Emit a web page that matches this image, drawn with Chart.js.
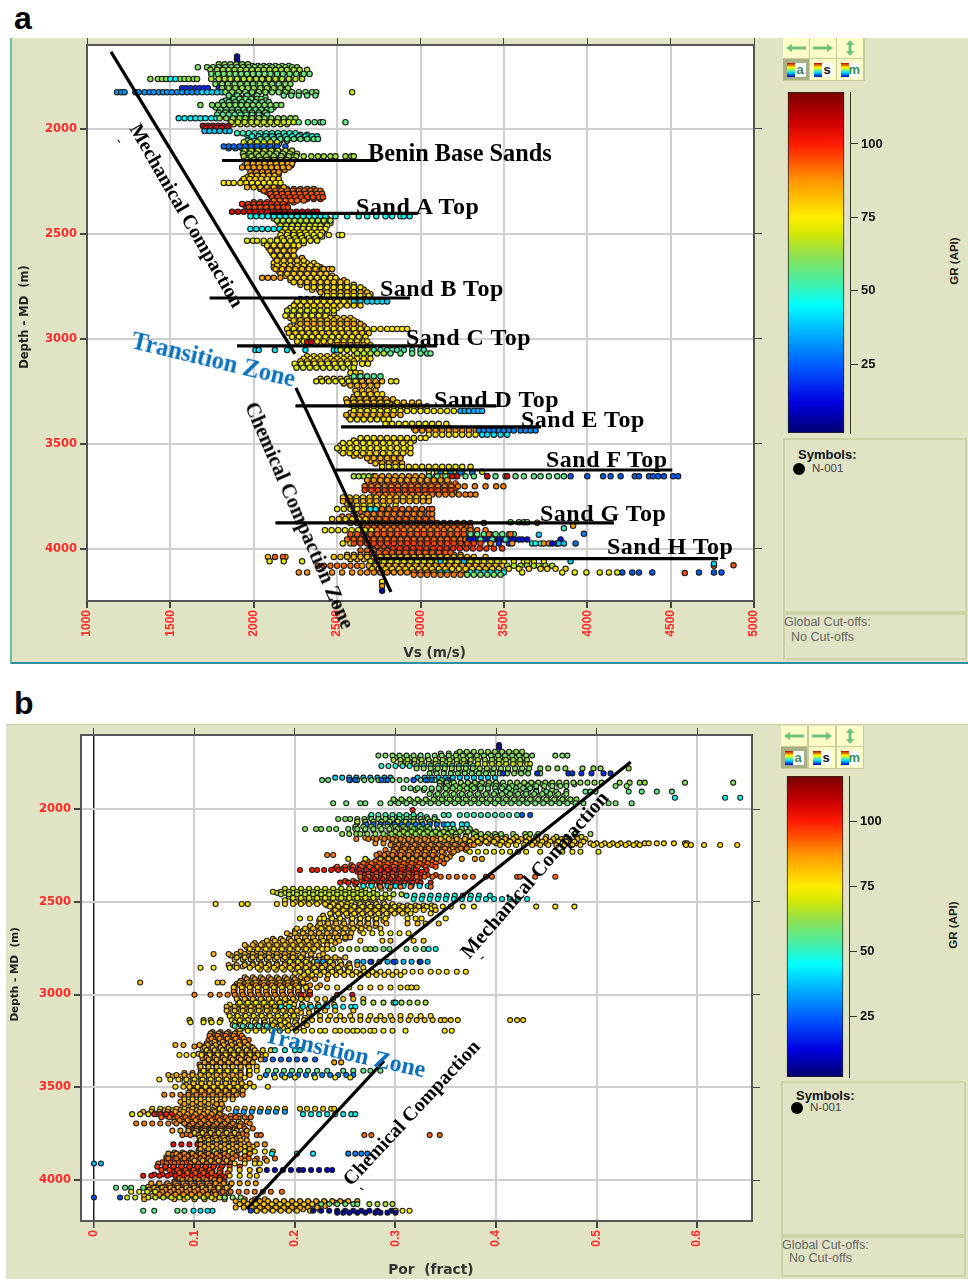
<!DOCTYPE html>
<html><head><meta charset="utf-8">
<script src="https://cdn.jsdelivr.net/npm/chart.js@4/dist/chart.umd.min.js"></script>
<style>
html,body{margin:0;padding:0;background:#fff;width:968px;height:1279px;overflow:hidden;font-family:"Liberation Sans",Arial,sans-serif}
.abs,canvas,.t,.btn,.box,.s{position:absolute}
.panel{position:absolute;background:#e0e3c4}
.t{font-family:"Liberation Serif",serif;font-weight:bold;color:#000;white-space:pre;line-height:26px;height:26px;transform-origin:0 50%;transform:rotate(var(--a,0deg))}
.blue{color:#0a70bd}
.btn{width:26px;height:20px;background:#fdfdc8;display:flex;align-items:center;justify-content:center}
.btn.on{background:#a9ae84}
.cm{display:inline-block;width:8px;height:14px;background:linear-gradient(#c00000,#ffff00,#00e0ff,#0000c0)}
.lt{display:inline-block;width:11px;height:14px;background:#fff;font:bold 13px/13px "Liberation Sans";text-align:center;color:#3c8a60}
.box{border:2px solid #cdd3a6;box-sizing:border-box}
.s{font-size:11.5px;color:#444;white-space:pre}
.dot{position:absolute;width:12px;height:12px;border-radius:50%;background:#000}
.lab{position:absolute;font:bold 32px/32px "Liberation Sans",Arial,sans-serif;color:#000}
</style></head><body>
<script>
/* ---------- shared axis and colour values ---------- */
const depthTicks=[2000,2500,3000,3500,4000];
const vsTicks=[1000,1500,2000,2500,3000,3500,4000,4500,5000];
const porTicks=[0,0.1,0.2,0.3,0.4,0.5,0.6];
const grTicks=[25,50,75,100];
const grStops=[[0,'#00006e'],[12,'#0000e0'],[25,'#0060ff'],[36,'#00b4ff'],[45,'#00ffff'],[52,'#40f0b0'],[62,'#90e050'],[70,'#d8e800'],[75,'#ffee00'],[87,'#ff9a00'],[100,'#ff1a00'],[108,'#c80000'],[118,'#780000']];

/* ---------- panel a: rows are depth, GR, then Vs readings ---------- */
const aBodyUpper=[
[1700,60,1810,1850,1885,1920,1955,1990,2025,2060,2095,2130,2170,2210],
[1728,62,1760,1800,1835,1870,1905,1940,1975,2010,2045,2080,2115,2150,2190,2230,2270],
[1750,58,1765,1800,1840,1875,1910,1945,1980,2015,2050,2085,2120,2160,2200,2240,2290],
[1774,64,1790,1830,1865,1905,1940,1980,2015,2055,2090,2130,2170,2210],
[1796,58,1830,1870,1905,1945,1980,2020,2055,2095,2135,2170],
[1816,62,1870,1910,1945,1985,2020,2060,2100,2140,2180,2210],
[1850,58,1880,1915,1950,1985,2020,2070],
[1864,54,1830,1870,1910,1950,1990,2030,2070],
[1897,58,1770,1805,1840,1875,1910,1945,1980,2015,2050,2085,2120],
[1915,60,1810,1850,1890,1930,1970,2010,2050,2080],
[1940,54,1800,1840,1880,1920,1960,2000,2040,2060],
[1958,64,1860,1900,1940,1980,2020,2060,2100,2140,2180,2220],
[1977,70,1880,1920,1960,2000,2040,2080,2120,2160,2200],
[2028,50,1960,2000,2040,2080,2120,2160,2200,2240,2280,2320],
[2042,52,2020,2060,2100,2140,2180,2220,2260,2300,2340],
[2056,56,1960,2000,2040,2080,2120,2160,2200],
[2072,64,1950,1990,2030,2070,2110,2150],
[2092,32,1850,1890,1930,1970,2010,2050,2090,2130],
[2110,66,1955,1995,2035,2075,2115,2155,2200],
[2125,64,1950,1990,2030,2070,2110,2150,2190,2230],
[2140,68,1965,2005,2045,2085,2125,2165,2205],
[2174,88,1945,1985,2025,2065,2105,2145,2185,2225],
[2195,86,1985,2025,2065,2105,2145,2185],
[2214,90,1990,2030,2070,2110,2150],
[2230,78,1960,2000,2040,2080,2120],
[2248,84,1930,1970,2010,2050,2090,2130],
[2268,80,1970,2010,2050,2090,2130],
[2286,90,2040,2080,2120,2160,2200,2240,2280,2320,2360],
[2301,96,2080,2120,2160,2200,2240,2280,2320,2360,2400],
[2317,92,2100,2140,2180,2220,2260,2300,2340,2380,2410],
[2333,98,2120,2160,2200,2240,2280,2320,2360,2400],
[2349,94,2000,2040,2080,2120,2160,2200,2240],
[2365,100,1950,1990,2030,2070,2110,2150,2190],
[2384,102,1990,2030,2070,2110,2150,2190],
[2405,78,2020,2060,2100,2140,2180,2220,2260,2300,2340],
[2426,68,2120,2160,2200,2240,2280,2320,2360,2400,2440],
[2448,72,2150,2190,2230,2270,2310,2350,2390,2430,2460],
[2468,70,2180,2220,2260,2300,2340,2380,2420],
[2484,76,2180,2220,2260,2300,2340,2380,2420],
[2512,74,2170,2210,2250,2290,2330,2370,2410],
[2526,78,2140,2180,2220,2260,2300,2340,2380],
[2544,76,2060,2100,2140,2180,2220,2260,2300],
[2567,80,2090,2130,2170,2210,2250],
[2591,78,2110,2150,2190,2230]];
const aBodyLower=[
[2615,82,2130,2170,2210,2250,2290],
[2639,78,2120,2160,2200,2240,2280,2320,2360],
[2659,84,2120,2160,2200,2240,2280,2320,2360,2400],
[2678,80,2150,2190,2230,2270,2310,2350,2390,2430],
[2699,78,2190,2230,2270,2310,2350,2390,2430,2470],
[2720,84,2220,2260,2300,2340,2380,2420,2460,2500,2540],
[2742,78,2280,2320,2360,2400,2440,2480,2520,2560,2600],
[2766,80,2350,2390,2430,2470,2510,2550,2590,2630,2660],
[2787,78,2420,2460,2500,2540,2580,2620,2660,2700],
[2810,76,2280,2320,2360,2400,2440,2480,2520,2560,2600,2640],
[2832,80,2250,2290,2330,2370,2410,2450,2490,2530,2570,2610],
[2853,74,2220,2260,2300,2340,2380,2420,2460,2500],
[2877,76,2200,2240,2280,2320,2360,2400,2440,2480],
[2900,82,2220,2260,2300,2340,2380,2420,2460,2500,2540,2580],
[2920,78,2260,2300,2340,2380,2420,2460,2500,2540,2580,2620],
[2940,84,2220,2260,2300,2340,2380,2420,2460,2500,2540,2580,2620,2660],
[2962,78,2230,2270,2310,2350,2390,2430,2470,2510,2550,2590,2630,2670],
[2981,82,2250,2290,2330,2370,2410,2450,2490,2530,2570,2610,2650],
[3001,76,2280,2320,2360,2400,2440,2480,2520,2560,2600,2640],
[3021,84,2400,2440,2480,2520,2560,2600,2640,2680],
[3041,80,2500,2540,2580,2620,2660,2700],
[3082,78,2320,2360,2400,2440,2480,2520,2560,2600,2640,2680],
[3100,82,2300,2340,2380,2420,2460,2500,2540,2580],
[3126,76,2260,2300,2340,2380,2420,2460,2500,2540,2580],
[3190,78,2400,2440,2480,2520,2560,2600,2640,2680],
[3212,82,2540,2580,2620,2660,2700,2740],
[3245,84,2610,2650,2690,2730],
[3275,84,2600,2640,2680,2720,2760],
[3295,78,2580,2620,2660,2700,2740,2780,2820],
[3312,84,2580,2620,2660,2700,2740,2780,2820,2860,2900],
[3332,78,2620,2660,2700,2740,2780,2820,2860,2900,2940,3000],
[3352,80,2580,2620,2660,2700,2740,2780,2820,2860],
[3373,78,2570,2610,2650,2690,2730,2770,2810],
[3484,78,2600,2640,2680,2720,2760,2800,2840,2880,2920,2960],
[3508,74,2520,2560,2600,2640,2680,2720,2760,2800,2840,2880,2920],
[3532,78,2520,2560,2600,2640,2680,2720,2760,2800,2840,2880,2920],
[3556,82,2600,2640,2680,2720,2760,2800,2840,2880],
[3581,84,2700,2740,2780,2820,2860],
[3664,88,2700,2740,2780,2820,2860,2900,2940,2980,3020,3060,3100],
[3688,92,2690,2730,2770,2810,2850,2890,2930,2970,3010,3050,3090,3130,3170,3210],
[3712,94,2690,2730,2770,2810,2850,2890,2930,2970,3010,3050,3090,3130,3170,3210],
[3731,90,2720,2760,2800,2840,2880,2920,2960,3000,3040,3080,3120,3160,3200],
[3764,82,2560,2600,2640,2680,2720,2760,2800,2840,2880,2920,2960,3000],
[3784,80,2560,2600,2640,2680,2720,2760,2800],
[3822,92,2600,2640,2680,2720,2760,2800,2840,2880,2920,2960,3000,3040],
[3846,90,2530,2570,2610,2650,2690,2730,2770,2810,2850,2890,2930,2970,3010,3050],
[3867,86,2520,2560,2600,2640,2680,2720,2760,2800,2840,2880,2920,2960,3000,3040],
[3888,92,2660,2700,2740,2780,2820,2860,2900,2940,2980,3020,3060,3100,3140,3180,3220,3260],
[3920,94,2640,2680,2720,2760,2800,2840,2880,2920,2960,3000,3040,3080,3120,3160,3200,3240,3280,3320],
[3942,96,2580,2620,2660,2700,2740,2780,2820,2860,2900,2940,2980,3020,3060,3100,3140,3180,3220,3260,3300,3340],
[3965,98,2620,2660,2700,2740,2780,2820,2860,2900,2940,2980,3020,3060,3100,3140,3180,3220,3260],
[3986,94,2700,2740,2780,2820,2860,2900,2940,2980,3020,3060,3100,3140,3180,3220,3260,3300],
[4008,92,2640,2680,2720,2760,2800,2840,2880,2920,2960,3000,3040,3080,3120,3160],
[4028,84,2560,2600,2640,2680,2720,2760,2800,2840,2880,2920,2960,3000,3040,3080,3120,3160,3200,3240],
[4049,80,2580,2620,2660,2700,2740,2780,2820,2860,2900,2940,2980,3020,3060,3100,3140,3180,3220,3260,3300],
[4070,86,2700,2740,2780,2820,2860,2900,2940,2980,3020,3060,3100,3140,3180,3220,3260,3300,3340],
[4088,82,2700,2740,2780,2820,2860,2900,2940,2980,3020,3060,3100,3140,3180,3220,3260,3300,3340,3380,3420],
[4104,84,2730,2770,2810,2850,2890,2930,2970,3010,3050,3090,3130,3170,3210,3250,3290]];
const aUpperSand=[
[1655,8,1900],[1672,8,1900],
[1692,62,1790,1825,1860,1895,1930,1965],
[1706,60,1665,1720,1755,1790,1830,1865,1900,1935,1970,2005,2040,2075,2110,2150,2190,2230,2260],
[1718,64,1740,1780,1815,1850,1885,1920,1955,1990,2025,2060,2095,2130,2165,2200,2240,2275,2320],
[1738,58,1745,1785,1820,1855,1890,1925,1960,1995,2030,2065,2100,2140,2175,2215,2255,2300,2335],
[1762,62,1380,1425,1450,1475,1560,1585,1610,1640,1660],[1762,44,1500,1530],
[1762,66,1745,1790,1825,1860,1900,1940,1975,2015,2050,2090,2130,2170,2210,2250,2290],
[1786,60,1770,1810,1845,1885,1920,1960,1995,2035,2070,2110,2150,2190,2220],
[1806,18,1570,1595,1620,1650,1675,1700,1725,1790],
[1806,62,1810,1850,1890,1930,1965,2000,2040,2080,2120,2160,2205],
[1825,32,1180,1205,1225,1290,1310,1345,1375,1400,1430,1455,1480,1510,1540,1570,1600,1630,1660],
[1825,40,1690,1720,1750,1780,1810],
[1825,60,1830,1870,1910,1950,1990,2030,2070,2110,2150,2190,2230,2270,2310,2350,2375],
[1825,68,2590],
[1841,56,2180,2225,2270,2320,2370,1850,1900,1960,2020],
[1857,58,1880,1915,1950,1985,2020,2045],
[1872,56,1810,1850,1890,1930,1970,2010,2050,2090],
[1886,60,1680,1750,1785,1820,1855,1890,1925,1960,1995,2030,2065,2100,2135,2165],
[1908,56,1800,1835,1870,1905,1940,1975,2010,2045,2080,2105],
[1922,60,1790,1830,1870,1910,1950,1990,2030,2070],
[1932,55,1780,1815,1850,1885,1920,1955,1990,2030,2080],
[1949,44,1550,1585,1620,1650,1680,1710,1745,1775],
[1949,62,1795,1835,1875,1915,1950,1990,2030,2065,2105,2145,2180,2220,2250],
[1968,68,1865,1905,1945,1985,2020,2060,2100,2140,2180,2210,2240],
[1968,56,2270,2325,2365,2400,2415,2550],
[1985,106,1695,1725,1755,1785,1815,1850],
[1995,104,1710,1740,1775,1805,1840],
[2010,38,1705,1735,1765,1795,1830,1855],
[2020,50,1900,1935,1970,2005,2040,2075,2110,2145,2180,2215,2250],
[2035,48,1990,2030,2070,2110,2150,2190,2230,2270,2310,2350,2380],
[2048,56,2040,2080,2120,2160,2200,2240,2280,2320,2360,2385],
[2063,68,1940,1980,2020,2060,2100,2140],
[2083,26,1820,1850,1880,1915,1950,1985,2020,2060,2100,2140,2190],
[2103,66,1945,1985,2025,2065,2105,2145,2190,2230],
[2118,62,1935,1975,2015,2055,2095,2135,2175,2215,2260],
[2130,64,1940,1985,2030,2075,2120,2165,2210,2255,2300,2345,2385,2420,2460,2490,2550,2585,2600],
[2148,68,1960,2000,2040,2080,2120,2160,2200,2240]];
const aSandA=[
[2165,84,1960,1995,2030,2065,2100,2135,2170,2205,2230],
[2183,86,1930,1965,2000,2035,2070,2105,2140,2175,2210],
[2206,88,1980,2015,2050,2085,2120,2150],
[2222,82,1985,2020,2055,2090,2125],
[2238,80,1940,1975,2010,2045,2080,2115,2150],
[2257,76,1820,1850,1880,1920,1955,1990,2025,2060,2095,2130,2160],
[2278,82,1960,2000,2040,2080,2120,2180],
[2294,92,2060,2095,2130,2165,2200,2235,2270,2305,2340,2375,2400],
[2309,94,2100,2135,2170,2205,2240,2275,2310,2345,2380,2410],
[2325,96,2110,2145,2180,2215,2250,2285,2320,2355,2390,2415],
[2341,92,2120,2155,2190,2225,2260,2300],
[2357,98,1930,1965,2000,2035,2070,2105,2140,2175],
[2373,96,1970,2005,2040,2075,2110,2145,2180,2205],
[2394,106,1870,1905,1940,1975,2010,2045,2080,2115,2150,2185,2220,2255,2290,2325,2360,2380],
[2416,46,1980,2015,2050,2085,2120,2155,2190,2225,2260,2295,2330,2365,2400,2430,2490,2560,2630,2680,2735,2790,2830,2880,2900,2935],
[2436,66,2140,2175,2210,2245,2280,2315,2350,2385,2420,2460],
[2460,70,2160,2195,2230,2265,2300,2335,2370,2400,2440],
[2476,44,1980,2015,2050,2085,2120,2155,2185],
[2476,74,2190,2225,2260,2295,2330,2365,2400,2430],
[2492,76,2170,2205,2240,2275,2310,2345,2380,2410],
[2505,74,2160,2200,2240,2280,2320,2360,2400,2450,2510,2530],
[2520,76,2170,2210,2250,2290,2330,2370],
[2532,72,1960,1995,2020,2060,2100,2140,2180,2220,2260,2300,2340,2380],
[2555,78,2080,2120,2160,2200,2240,2270],
[2579,80,2100,2140,2180,2220,2240]];
const aSandB=[
[2603,78,2120,2160,2200,2240],
[2627,80,2140,2180,2220,2260,2300],
[2651,78,2140,2180,2220,2260,2300,2340,2380],
[2667,82,2130,2170,2210,2250,2290,2330,2370,2410,2420,2450,2470],
[2690,80,2160,2200,2240,2280,2320,2360,2400,2435],
[2709,86,2050,2085,2120,2160],[2709,78,2220,2260,2300,2340,2380,2420,2460,2490],
[2730,80,2240,2280,2320,2360,2400,2440,2480,2520,2560],
[2754,76,2320,2360,2400,2440,2480,2520,2560,2600,2640],
[2778,82,2400,2440,2480,2520,2560,2600,2640,2680],
[2795,74,2440,2480,2520,2560,2600,2640,2690],
[2822,76,2260,2300,2340,2380,2420,2460,2500,2540,2580],
[2822,40,2600,2640,2680,2710,2740,2770,2800],
[2841,78,2240,2280,2320,2360,2400,2440,2480,2520,2560,2600,2640],
[2865,70,2200,2240,2280,2320,2360,2400,2440,2480],
[2889,74,2190,2230,2270,2310,2350,2390,2430],
[2912,80,2240,2280,2320,2360,2400,2440,2480,2520,2560,2600],
[2928,84,2280,2320,2360,2400,2440,2480,2520,2560,2600,2640],
[2952,76,2200,2240,2280,2320,2360,2400,2440,2480,2520,2560,2600,2640,2680,2720,2760,2800,2830,2860,2890,2920]];
const aSandC=[
[2972,80,2210,2250,2290,2330,2370,2410,2450,2490,2530,2570,2610,2650,2690],
[2990,74,2230,2270,2310,2350,2390,2430,2470,2510,2550,2590,2630,2670],
[3012,78,2260,2300,2340,2380,2420,2460,2500,2540,2580,2620,2660,2680],
[3015,106,2320,2345],
[3030,84,2500,2540,2580,2620,2660,2700],
[3053,42,2010,2030,2127,2200,2310,2480,2500],
[3053,70,2520,2560,2600,2640,2680],[3053,52,2720,2760,2800,2830,2860,2900,2950,3000,3020],
[3069,66,2620,2660,2700,2740,2780],[3069,56,2820,2880,2950,3000,3040,3060],
[3094,76,2300,2340,2380,2420,2460,2500,2540,2580,2620,2660,2700],
[3106,80,2280,2320,2360,2400,2440,2480,2520,2560,2600],
[3118,74,2245,2285,2325,2365,2405,2445,2485,2525,2565,2605,2650,2685],
[3137,70,2256,2296,2336,2376,2416,2456,2496,2536,2580,2600],
[3162,78,2580,2610,2640],[3178,54,2600,2640,2680,2720,2760],
[3202,72,2375,2410,2450,2490,2530,2570,2610],[3202,84,2650,2690,2730,2770],[3202,72,2823,2855],
[3222,84,2580,2620,2660,2700,2740],
[3263,78,2620,2660,2700,2740,2770],
[3287,82,2555,2595,2635,2675,2715,2755,2795,2835],
[3303,80,2560,2600,2640,2680,2720,2760,2800,2860,2900,2950,2990],
[3320,76,2600,2640,2680,2720,2760,2800,2840,2880,2920,2960,3000,3040],
[3343,74,2600,2640,2680,2720,2760,2800,2840,2880,2920,2960,3000,3040,3080,3120,3160,3200],
[3343,36,3240,3265,3290,3320,3345,3370],
[3362,84,2555,2595,2635,2675,2715,2755,2795,2835,2880],
[3383,76,2580,2620,2660,2700,2740,2780,2810]];
const aSandE=[
[3404,74,2790,2830,2870,2910,2950,2990,3030,3070,3110,3155],
[3424,82,2960,3000,3040,3080,3120,3170],
[3436,88,2970,3010,3050,3090,3130,3170,3210,3250,3290,3330],
[3436,30,3350,3380,3410,3440,3470,3500,3530,3560,3600,3630,3660,3690],
[3456,76,3050,3090,3130,3170,3210,3250,3290,3330],[3456,42,3370,3400,3440,3480,3520],
[3472,76,2640,2680,2720,2760,2800,2840,2880,2920,2960,3000,3030],
[3496,76,2535,2575,2615,2655,2695,2735,2775,2815,2855,2895,2940],
[3520,74,2500,2540,2580,2620,2660,2700,2740,2780,2820,2860,2900,2940],
[3544,78,2535,2575,2615,2655,2695,2735,2775,2815,2855,2895,2940],
[3568,84,2680,2720,2760,2800,2840,2880],
[3593,82,2730,2770,2810,2850,2890],
[3609,76,2770,2810,2850,2890,2930,2970,3010,3050,3090,3130,3170,3210,3250,3300],
[3633,70,3050,3100,3150,3200,3250,3310,3370],[3636,30,3120,3180,3240,3310],
[3654,64,2600,2630,2660,2690,2720],
[3654,86,2730,2770,2810,2850,2890,2930,2970,3010,3050,3090,3130,3170],
[3654,56,3050,3100,3150,3210,3270,3320,3400,3450,3510,3570,3620,3680,3720,3770,3820,3860],
[3654,105,3190,3220,3400,3520],
[3654,24,3900,4000,4095,4140,4200,4285,4310,4370,4395,4425,4460,4515,4545],
[3673,86,2680,2720,2760,2800,2840,2880,2920,2960,3000,3040,3080,3120,3160],
[3702,90,2665,2705,2745,2785,2825,2865,2905,2945,2985,3025,3065,3105,3145,3185,3225,3265,3326,3390,3454,3497],
[3721,96,2665,2705,2745,2785,2825,2865,2905,2945,2985,3025,3065,3105,3145,3185],
[3741,90,2750,2790,2830,2870,2910,2950,2990,3030,3070,3110,3150,3190,3230,3270,3300,3330],
[3755,80,2535,2575,2615,2655,2695,2735,2775,2815,2855,2895,2935,2975,3015,3050],
[3773,84,2535,2575,2615,2655,2695,2735,2775,2815,2855,2895,2935,2975,3015,3050],
[3794,78,2580,2620,2660,2700,2740,2780,2850]];
const aSandG=[
[3810,74,2500,2540,2580,2620,2660,2700],[3810,42,2700,2730],
[3810,92,2770,2810,2850,2890,2930,2970,3010,3050,3070],
[3834,90,2680,2720,2760,2800,2840,2880,2920,2960,3000,3050,3070],
[3858,78,2470,2510,2550,2590,2630,2670],[3858,92,2710,2750,2790,2830,2870,2910,2950,2990,3030,3070],
[3877,88,2580,2620,2660,2700,2740,2780,2820,2860,2900,2940,2980,3020,3060,3100,3140,3180,3220,3260,3300,3380],
[3873,60,3540,3590,3620,3640],[3875,88,3700],
[3898,92,2680,2720,2760,2800,2840,2880,2920,2960,3000,3040,3080,3120,3160,3200,3240,3280,3300],
[3911,74,2427,2467,2507,2547,2587,2627,2667,2705],
[3911,90,2740,2780,2820,2860,2900,2940,2980,3020,3060,3100,3140,3180,3220,3260,3300,3340,3390],
[3902,52,3860],[3890,86,3915],[3928,30,3980],[3932,40,3710],
[3930,94,2580,2620,2660,2700,2740,2780,2820,2860,2900,2940,2980,3020,3060,3100,3140,3180,3220,3260],
[3930,56,3300,3340,3380,3420,3450,3490,3530,3560],[3930,92,3410,3540],
[3955,92,2560,2600,2640,2680,2720,2760,2800,2840,2880,2920,2960,3000,3040,3080,3120,3160,3200,3240,3270],
[3955,14,3290,3320,3350,3380,3410,3440,3470,3500,3530,3560,3590,3610,3640,3840],
[3955,52,3360,3430,3510],
[3974,74,2534,2580],
[3974,96,2600,2640,2680,2720,2760,2800,2840,2880,2920,2960,3000,3040,3080,3120,3160,3200,3240,3280,3320,3360],
[3974,18,3420,3470,3530],[3974,88,3420,3550],
[3974,46,3670,3690,3720],[3974,88,3740,3770],[3974,14,3790,3815],[3974,38,3830,3860],[3974,28,3930],
[3998,98,2835,2875,2915,2955,2995,3035,3075,3115,3155,3195,3235,3275,3315,3355,3395,3440,3490],
[4018,94,2710,2750,2790,2830,2870,2910,2950,2990,3030,3070,3110,3150,3180],
[4038,82,2085,2190,2480,2520,2560,2600,2640,2680,2720,2760,2800,2840,2880,2920,2960,3000,3040,3080,3120,3160,3200,3240,3280,3320,3390],
[4038,94,2127,2175],
[4059,72,2095,2180,2290,2700,2740,2780,2820,2860,2900,2940,2980,3020,3060,3100,3140,3180,3220,3260,3300,3340,3380,3420,3460,3500,3560,3620,3680,3740],
[4059,40,3120,3260,3900],
[4059,70,3640],
[4080,92,2384,2420,2460,2500,2540,2580,2620],
[4080,84,2650,2690,2730,2770,2810,2850,2890,2930,2970,3010,3050,3090,3130,3170,3210,3250,3290,3330,3370,3410,3450,3490],
[4080,66,3520,3560,3600,3640,3680,3710,3750,3790],
[4080,94,4760],[4070,40,4760],[4078,95,4877],
[4095,78,2710,2750,2790,2830,2870,2910,2950,2990,3030,3070,3110,3150,3190,3230,3270,3310,3350,3390,3430,3470,3530,3590,3650,3720,3760,3810,3870],
[4112,88,2270,2320,2470,2530,2590,2640,2680,2720,2760,2800,2840,2880,2920,2960,3000,3040,3080],
[4112,44,3120,3160,3300,3340,3380,3420,3460,3500],
[4112,72,3610,3850,3925,3995,4075,4130,4180],[4112,24,4210,4270,4310,4390,4670,4760,4805],[4115,95,4585],
[4123,90,2960,3000,3040,3080,3120,3160,3200,3240],[4123,60,3280,3320,3360,3400,3440,3480],
[4156,76,2770],[4177,88,2770],[4199,6,2770]];

/* sand tops and compaction trends of panel a */
const aTopDepth=[2150,2402,2805,3033,3319,3419,3624,3876,4046];
const aTopFrom=[1810,2100,1735,1900,2250,2523,2490,2130,2730];
const aTopTo=[2745,2985,2937,3100,3455,3722,4510,4160,4785];
const aMechVs=[1144,2247];const aMechDepth=[1633,3071];
const aChemVs=[2253,2823];const aChemDepth=[3233,4205];

/* ---------- panel b: rows are depth, GR, then Por readings ---------- */
const bBodyUpper=[
[1701,60,.345,.353,.361,.369,.377,.385,.393,.401,.409,.417,.425],
[1724,62,.300,.308,.316,.324,.332,.340,.348,.356,.364,.372,.380,.388,.396,.404,.412,.420,.428],
[1746,66,.310,.318,.326,.334,.342,.350,.358,.366,.374,.382,.390,.398,.406,.414,.422,.430],
[1795,58,.340,.348,.356,.364,.372,.380,.388,.396,.404,.412,.420,.428],
[1867,58,.350,.358,.366,.374,.382,.390,.398,.406,.414,.422,.430,.438,.446,.454,.462,.470,.478],
[1897,64,.320,.328,.336,.344,.352,.360,.368,.376,.384,.392,.400,.408,.416,.424,.432,.440,.448,.456],
[1928,58,.340,.348,.356,.364,.372,.380,.388,.396,.404,.412,.420,.428,.436,.444,.452,.460,.468],
[1958,60,.300,.308,.316,.324,.332,.340,.348,.356,.364,.372,.380,.388,.396,.404,.412,.420,.428,.436,.444,.452,.460,.468,.476],
[2043,54,.275,.283,.291,.299,.307,.315,.323,.331,.339],
[2075,60,.262,.270,.278,.286,.294,.302,.310,.318,.326,.334],
[2115,66,.270,.278,.286,.294,.302,.310,.318,.326,.334,.342,.350,.358,.366,.374],
[2143,72,.290,.298,.306,.314,.322,.330,.338,.346,.354,.362,.370,.378,.386,.394,.402],
[2155,88,.270,.278,.286,.294,.302,.310,.318,.326,.334,.342,.350],
[2170,84,.300,.308,.316,.324,.332,.340,.348,.356,.364,.372,.380,.388,.396,.404,.412],
[2185,88,.280,.288,.296,.304,.312,.320,.328,.336,.344,.352,.360,.368,.376,.384,.392,.400,.410,.420,.430,.440,.450,.460,.470,.480],
[2203,92,.298,.306,.314,.322,.330,.338,.346,.354,.362,.370],
[2221,90,.290,.298,.306,.314,.322,.330,.338,.346,.354,.362,.370],
[2240,92,.284,.292,.300,.308,.316,.324,.332,.340,.348,.356],
[2258,88,.290,.298,.306,.314,.322,.330,.338,.346,.354],
[2281,92,.272,.280,.288,.296,.304,.312,.320,.328,.336,.344],
[2302,96,.256,.264,.272,.280,.288,.296,.304,.312,.320,.328,.336],
[2320,98,.240,.248,.256,.264,.272,.280,.288,.296,.304,.312,.320],
[2338,100,.262,.270,.278,.286,.294,.302,.310,.318,.326],
[2356,96,.268,.276,.284,.292,.300,.308,.316,.324,.332,.340],
[2372,100,.268,.276,.284,.292,.300,.308,.316,.324],
[2388,96,.250,.258,.266,.274,.282,.290,.298,.306,.314,.322],
[2406,94,.260,.268,.276,.284,.292,.300,.308,.316,.324]];
const bBodyMid=[
[2430,70,.190,.198,.206,.214,.222,.230,.238,.246,.254,.262,.270,.278,.286,.294],
[2452,68,.182,.190,.198,.206,.214,.222,.230,.238,.246,.254,.262,.270,.278],
[2473,70,.194,.202,.210,.218,.226,.234,.242,.250,.258,.266,.274,.282,.290],
[2492,74,.190,.198,.206,.214,.222,.230,.238,.246,.254,.262,.270,.278],
[2503,76,.200,.208,.216,.224,.232,.240,.248,.256,.264,.272,.280,.288],
[2520,78,.232,.240,.248,.256,.264,.272,.280,.288,.296,.304,.312,.320,.328,.336],
[2535,74,.240,.248,.256,.264,.272,.280,.288,.296,.304,.312,.320,.328,.336],
[2554,82,.238,.246,.254,.262,.270,.278,.286,.294,.302,.310],
[2575,80,.228,.236,.244,.252,.260,.268,.276,.284,.292],
[2603,84,.224,.232,.240,.248,.256,.264,.272,.280,.288],
[2630,82,.215,.223,.231,.239,.247,.255,.263,.271,.280],
[2657,84,.200,.208,.216,.224,.232,.240,.248,.256,.265],
[2681,82,.195,.203,.211,.219,.227,.235,.243,.250],
[2700,84,.178,.186,.194,.202,.210,.218,.226,.234,.242,.250],
[2722,86,.160,.168,.176,.184,.192,.200,.208,.216,.224,.232,.240],
[2744,82,.152,.160,.168,.176,.184,.192,.200,.208,.216,.224,.232],
[2768,84,.146,.154,.162,.170,.178,.186,.194,.202,.210,.218],
[2790,80,.136,.144,.152,.160,.168,.176,.184,.192,.200,.208,.216,.224],
[2811,84,.140,.148,.156,.164,.172,.180,.188,.196,.204,.212,.220,.228,.236,.244],
[2832,78,.150,.158,.166,.174,.182,.190,.198,.206,.214,.222,.230,.238,.246,.254],
[2849,82,.140,.148,.156,.164,.172,.180,.188,.196,.204,.212,.220,.228,.236,.244,.252],
[2866,78,.165,.173,.181,.189,.197,.205,.213,.221,.229,.237,.245,.253],
[2886,76,.200,.208,.216,.224,.232,.240,.248,.256,.264,.272,.280],
[2907,84,.150,.158,.166,.174,.182,.190,.198,.206,.214],
[2926,84,.146,.154,.162,.170,.178,.186,.194,.202],
[2943,86,.142,.150,.158,.166,.174,.182,.190,.198,.206],
[2956,90,.140,.148,.156,.164,.172,.180,.188,.196,.204,.212],
[2973,86,.140,.148,.156,.164,.172,.180,.188,.196,.204,.212],
[2993,90,.140,.148,.156,.164,.172,.180,.188,.196,.204],
[3012,84,.142,.150,.158,.166,.174,.182,.190,.198,.206],
[3034,78,.144,.152,.160,.168,.176,.184,.192,.200],
[3055,78,.135,.143,.151,.159,.167,.175,.183,.191,.199,.207,.215,.223,.231,.239],
[3076,80,.134,.142,.150,.158,.166,.174,.182,.190,.198,.206,.214,.222],
[3098,82,.134,.142,.150,.158,.166,.174,.182,.190,.198,.206,.214],
[3125,78,.138,.146,.154,.162,.170,.178,.186,.194,.202,.210],
[3155,76,.145,.153,.161,.169,.177,.185,.193,.201,.209],
[3180,76,.148,.156,.164,.172,.180,.188,.196,.204],
[3203,86,.118,.126,.134,.142],[3215,92,.118,.126,.134,.142],[3230,88,.116,.124,.132,.140,.148],
[3245,92,.114,.122,.130,.138,.146,.154],[3264,86,.112,.120,.128,.136,.144,.152]];
const bBodyLower=[
[3280,88,.100,.108,.116,.124,.132,.140,.148,.156],
[3294,84,.108,.116,.124,.132,.140,.148],
[3308,90,.112,.120,.128,.136,.144,.152,.160],
[3320,82,.104,.112,.120,.128,.136,.144,.152,.160],
[3333,86,.112,.120,.128,.136,.144,.152,.160,.168],
[3345,90,.108,.116,.124,.132,.140,.148,.156],
[3358,84,.112,.120,.128,.136,.144,.152],
[3378,88,.105,.113,.121,.129,.137,.145,.153],
[3400,84,.106,.114,.122,.130,.138,.146,.154],
[3423,88,.090,.098,.106,.114,.122,.130,.138,.146,.154],
[3442,84,.078,.086,.094,.102,.110,.118,.126,.134,.142],
[3468,82,.090,.098,.106,.114,.122,.130,.138,.146],
[3488,86,.092,.100,.108,.116,.124,.132,.140,.148],
[3508,84,.096,.104,.112,.120,.128,.136,.144],
[3530,88,.094,.102,.110,.118,.126,.134,.142],
[3552,86,.090,.098,.106,.114,.122,.130,.138],
[3578,84,.086,.094,.102,.110,.118,.126],
[3604,88,.088,.096,.104,.112,.120,.128],
[3624,84,.070,.078,.086,.094,.102,.110,.118,.126],
[3654,90,.072,.080,.088,.096,.104,.112,.120,.128,.136,.144],
[3670,92,.080,.088,.096,.104,.112,.120,.128,.136,.144],
[3686,86,.080,.088,.096,.104,.112,.120,.128,.136,.144,.152],
[3703,90,.092,.100,.108,.116,.124,.132,.140,.148],
[3728,88,.100,.108,.116,.124,.132,.140],
[3740,86,.095,.103,.111,.119,.127,.135,.143],
[3752,90,.092,.100,.108,.116,.124,.132,.140,.148],
[3779,86,.110,.118,.126,.134,.142],
[3798,88,.104,.112,.120,.128,.136,.144],
[3815,84,.105,.113,.121,.129,.137,.145,.153],
[3840,88,.104,.112,.120,.128,.136,.144,.152],
[3852,90,.080,.088,.096,.104,.112,.120,.128,.136],
[3864,92,.078,.086,.094,.102,.110,.118,.126,.134,.142],
[3878,96,.072,.080,.088,.096,.104,.112,.120,.128,.136],
[3892,92,.072,.080,.088,.096,.104,.112,.120,.128,.136],
[3904,96,.068,.076,.084,.092,.100,.108,.116,.124,.132],
[3920,100,.072,.080,.088,.096,.104,.112,.120,.128],
[3937,96,.070,.078,.086,.094,.102,.110,.118,.126],
[3954,100,.078,.086,.094,.102,.110,.118,.126],
[3970,100,.060,.068,.076,.084,.092,.100,.108,.116,.124],
[3984,96,.082,.090,.098,.106,.114,.122,.130],
[3996,94,.086,.094,.102,.110,.118],
[4009,92,.080,.088,.096,.104,.112,.120,.130],
[4024,90,.064,.072,.080,.088,.096,.104,.112,.120,.128,.136],
[4036,86,.054,.062,.070,.078,.086,.094,.102,.110,.118,.126,.134],
[4057,86,.060,.068,.076,.084,.092,.100,.108,.116,.124],
[4070,92,.062,.070,.078,.086,.094,.102,.110,.118,.126,.134],
[4086,84,.050,.058,.066,.074,.082,.090,.098,.106,.114,.122,.130],
[4104,84,.050,.080,.090,.100,.110,.120,.130,.150,.160,.170],
[4122,82,.150,.158,.166,.174,.182,.190,.198,.206,.214,.222,.230,.240,.250],
[4140,86,.150,.158,.166,.174,.182,.190,.198,.206,.214,.222,.230],
[4158,84,.160,.168,.176,.184,.192,.200,.208,.216,.224]];
const bUpperSand=[
[1655,8,.403],[1668,8,.403],
[1691,62,.364,.371,.378,.385,.392,.399,.406,.413,.420,.426],
[1712,60,.283,.290,.297,.304,.311,.318,.325,.332,.339,.346,.353,.360,.367,.374,.381,.388,.395,.402,.409,.416,.423,.430,.436,.459,.466,.471],
[1736,64,.298,.305,.312,.319,.326,.333,.340,.347,.354,.361,.368,.375,.382,.389,.396,.403,.410,.417,.424,.431],
[1757,68,.305,.312,.319,.326,.333,.340,.347,.354,.361,.368,.375,.382,.389,.396,.403,.410,.417,.424,.431,.434],
[1768,50,.286,.293,.300,.307,.314,.321,.328,.335,.342,.349,.356,.363,.370,.377],
[1781,62,.321,.328,.335,.342,.349,.356,.363,.370,.377,.384,.391,.398,.405,.412,.419,.426,.433,.444,.452,.461,.469,.486,.497,.504,.532],
[1808,60,.334,.341,.348,.355,.362,.369,.376,.383,.390,.397,.404,.411,.418,.425,.432,.444],
[1808,18,.407,.441,.472,.476,.485,.495,.507,.514],
[1831,40,.240,.247,.254,.261,.268,.275,.282,.289,.295,.322,.329,.336,.343,.350,.357,.364,.371,.378,.385,.392,.399],
[1844,58,.227,.233,.255,.262,.269,.276,.283,.290,.297,.304,.311,.318,.325,.332,.339,.346,.353],
[1844,26,.254,.260,.286,.292,.318,.330,.336,.352],
[1858,62,.344,.351,.358,.365,.372,.379,.386,.393,.400,.407,.414,.421,.428,.435,.442,.449,.456,.463,.470,.477,.484,.491,.498,.505,.523,.533,.543,.548,.588,.636],
[1876,60,.344,.352,.360,.368,.376,.384,.392,.400,.408,.416,.424,.432,.440,.448,.456,.464,.470,.519,.530],
[1888,58,.308,.315,.322,.329,.336,.343,.350,.357,.364,.371,.378,.385,.392,.399,.406,.413,.420,.427,.434],
[1906,56,.489,.494,.499,.532,.545,.560,.575,.400,.410,.420,.430,.440,.450,.460,.470],
[1919,60,.334,.342,.350,.358,.366,.374,.382,.390,.398,.406,.414,.422,.430,.438,.446,.454,.462,.470],
[1939,46,.578,.628,.643],
[1948,62,.298,.306,.314,.322,.330,.338,.346,.354,.362,.370,.378,.386,.394,.402,.410,.418,.426,.434,.442,.450,.458,.466,.474,.480],
[1969,58,.238,.251,.265,.270,.285,.295,.303,.311,.319,.327,.335,.343,.351,.359,.367,.375,.383,.391,.399,.407,.415,.423,.431,.439,.447,.455,.463,.471,.479,.487,.512,.519,.535],
[2005,102,.317],
[2032,52,.276,.283,.290,.297,.304,.311,.318,.325,.348,.353,.364,.371,.378,.385,.392,.399,.406,.413,.421],
[2032,24,.426,.434],
[2054,60,.243,.250,.255,.262,.269,.276,.283,.290,.297,.304,.311,.318,.325,.332,.339],
[2068,66,.262,.270,.278,.286,.294,.302,.310,.318,.326,.334,.342],
[2083,28,.271,.278,.285,.292,.299,.306,.313,.320,.327,.334,.341,.348],[2083,42,.352,.357,.366,.371],
[2096,62,.260,.268,.276,.284,.292,.300,.308,.316,.324,.332],
[2108,60,.210,.221,.226,.234,.241,.253,.260,.262,.270,.278,.286,.294,.302,.310,.318,.326,.334,.342,.350,.358,.366,.374],
[2122,64,.300,.308,.316,.324,.332,.340,.348,.356,.364,.372,.380],
[2135,62,.247,.254,.261,.265,.272,.280,.288,.296,.304,.312,.320,.328,.336,.344,.352,.360,.378,.385,.392,.399,.405,.417,.429,.434,.442,.478,.494],
[2150,70,.350,.360,.370,.380,.390,.400,.410,.420,.430,.440,.450,.460,.470,.480,.485],
[2162,90,.261,.273,.281,.289,.297,.305,.313,.321,.329,.337],
[2162,82,.345,.353,.361,.369,.377,.385,.393,.401,.409,.417,.425,.433,.441,.449,.457,.465,.473,.481,.489],
[2176,78,.374,.382,.390,.398,.406,.414,.422,.430,.438,.446,.454,.462,.470,.478,.487],
[2185,78,.494,.500,.508,.516,.524,.532,.540,.548,.552,.560,.567,.577,.588,.590],
[2194,88,.295,.303,.311,.319,.327,.335,.343,.351,.359,.367,.375,.378],
[2194,78,.404,.412,.420,.428,.436,.444,.452,.460,.468,.476,.484,.497,.505,.513,.521,.529,.537,.543,.589,.594,.607,.623,.640],
[2212,90,.301,.309,.317,.325,.333,.341,.349,.357,.365,.371],
[2230,88,.298,.306,.314,.322,.330,.338,.346,.358],[2230,72,.374,.382,.390,.398,.406,.414,.422,.430,.444,.466,.476,.484,.502],
[2248,90,.232,.238,.281,.289,.297,.305,.313,.321,.329,.337],
[2269,86,.285,.293,.301,.309,.317,.325,.333,.341,.351,.366,.379,.386],[2269,72,.253,.270],
[2293,92,.268,.276,.284,.292,.300,.308,.316,.324,.332,.340,.348],
[2311,94,.242,.250,.258,.266,.274,.282,.290,.298,.306,.314,.322,.330,.340],
[2329,100,.205,.217,.222,.229,.236,.243,.250,.257,.264,.271,.278,.285,.292,.299,.306,.313,.320,.331],
[2347,98,.265,.273,.281,.289,.297,.305,.313,.321],
[2365,92,.265,.273,.281,.289,.297,.305,.313,.321,.329,.337,.345,.353,.361,.369,.377,.390,.396,.421,.424,.439,.459]];
const bMidSand=[
[2379,102,.271,.279,.287,.295,.303,.311],
[2397,100,.245,.253,.261,.269,.277,.285,.293,.301,.309,.317,.325,.335],
[2415,46,.268,.276,.284,.292,.300,.308,.316,.324,.332],[2419,92,.285,.295,.305,.315,.335],
[2446,70,.178,.186,.194,.202,.210,.218,.226,.234,.242,.250,.258,.266],
[2460,66,.186,.194,.202,.210,.218,.226,.234,.242,.250,.258,.266,.274,.282,.290,.298,.306],[2467,48,.311,.319,.327,.335,.343,.351,.359,.367,.375,.383,.394],
[2480,72,.198,.206,.214,.222,.230,.238,.246,.254,.262,.270,.278,.286,.294],[2485,46,.318,.326,.334,.342,.350,.358,.366,.374,.382,.390,.398,.406,.414,.422,.431],
[2512,78,.121,.147,.153,.182,.190,.198,.206,.214,.222,.230,.238,.246,.252,.265,.273,.281,.289,.297],
[2526,76,.235,.243,.251,.259,.267,.275,.283,.291,.299,.307,.315,.323,.331,.339,.347,.355,.367,.378,.440,.459,.478],
[2545,80,.240,.248,.256,.264,.272,.280,.288,.296,.304,.312,.320,.328,.340],
[2563,78,.235,.243,.251,.259,.267,.275,.283,.291,.299,.307,.315,.335],
[2590,76,.205,.215,.225,.229,.237,.245,.257,.265,.273,.281,.290,.312,.320,.326,.350],
[2617,82,.225,.233,.241,.249,.257,.265,.273,.281,.291,.312,.322,.330,.343],
[2644,80,.202,.210,.218,.226,.234,.242,.250,.258,.266,.274,.285],
[2670,82,.192,.200,.208,.216,.224,.232,.240,.248,.256],[2670,74,.268,.277,.286,.295,.304,.313],
[2692,84,.202,.210,.218,.226,.234,.242,.250,.255],
[2710,80,.172,.180,.188,.196,.204,.212,.220,.228,.236,.244,.265,.287,.295,.318,.328],
[2733,82,.150,.158,.166,.174,.182,.190,.198,.206,.214,.222,.232],
[2755,78,.155,.163,.171,.179,.187,.195,.203,.211,.219,.227,.232],[2755,66,.238,.246,.254,.262,.270,.275],[2755,58,.280,.288,.294,.311,.320,.328],[2755,46,.333,.340],
[2782,84,.119,.134,.142,.150,.158,.166,.174,.182,.190,.198,.208,.216,.228],
[2800,80,.142,.150,.158,.166,.174,.182,.190,.198,.206,.232,.240,.250],
[2823,72,.195,.203,.211,.219,.227,.235,.245],[2823,36,.222,.228,.262,.268,.276,.284,.292,.300,.308,.316,.324,.332],[2823,20,.275,.298,.325],
[2841,84,.134,.142,.150,.158,.166,.174,.182,.190,.198,.206,.214,.222,.230,.238,.246,.254,.262],
[2856,76,.106,.119,.135,.142,.155,.163,.171,.179,.187,.195,.203,.211,.219,.227,.235,.243,.255,.268],
[2877,76,.205,.213,.221,.229,.237,.245,.253,.261,.269,.277,.285,.293,.301,.309,.317,.325,.335,.343,.351,.361,.370],
[2895,78,.209,.217,.225,.233,.241,.249,.257,.265,.273,.281,.289,.297,.305],
[2917,86,.152,.160,.168,.176,.184,.192,.200,.212,.220,.232],
[2935,82,.046,.095,.123,.128,.145,.153,.161,.169,.177,.185,.193,.201,.208],
[2950,88,.145,.153,.161,.169,.177,.185,.193,.201,.215,.225],
[2962,78,.139,.147,.155,.163,.171,.179,.187,.195,.203,.211,.222,.232,.242,.254,.265,.275,.285,.295,.305,.312,.316,.321],
[2985,88,.139,.147,.155,.163,.171,.179,.187,.195,.203,.215],
[3001,90,.1,.116,.125,.133,.140,.148,.156,.164,.172,.180,.188,.196,.204,.209],[3001,105,.206,.215,.242,.257],
[3024,80,.142,.150,.158,.166,.174,.182,.190,.198,.206,.212,.222,.230,.238,.248,.258,.268],
[3044,76,.145,.153,.161,.169,.177,.185,.195],[3044,64,.268,.278,.288,.298,.306,.314,.322,.330],[3044,40,.300],
[3066,82,.132,.140,.148,.156,.164,.172,.180,.185],[3066,44,.186,.194,.208,.216,.224,.232,.240,.248,.256,.260],
[3087,80,.132,.140,.148,.156,.164,.172,.180,.188,.196,.202,.222,.230,.240,.258],
[3116,76,.135,.143,.151,.159,.167,.175,.183,.191,.199,.225,.235,.245,.255,.265,.275,.285,.295,.305,.315,.325,.335],
[3138,78,.095,.109,.116,.126,.137,.145,.153,.161,.169,.177,.185,.193,.201,.209,.217,.225,.233,.241,.249,.257,.265,.273,.281,.289,.297,.305,.313,.321,.329,.337,.345,.349,.355,.362,.414,.421,.427],
[3150,74,.096,.109,.117,.125,.140,.150,.160,.170,.180,.190,.200],
[3165,80,.138,.146,.154,.162,.170,.178,.186,.194,.202,.212],
[3170,52,.140,.148,.156,.164,.172],
[3195,74,.145,.153,.161,.169,.177,.185,.193,.201,.209,.217,.225,.230,.240,.245,.252,.258,.262,.268,.275,.279,.288,.297,.310,.349,.356]];
const bLowerSand=[
[3210,86,.116,.124,.132,.140,.145],
[3222,90,.115,.123,.131,.139,.147],
[3237,88,.117,.125,.133,.141,.149],
[3255,86,.120,.128,.136,.144,.150],
[3272,84,.081,.089,.105,.113,.121,.129,.137,.145,.153],
[3287,82,.110,.118,.126,.134,.142,.150,.158],
[3300,80,.112,.120,.128,.136,.144,.152,.160,.168,.176],[3300,48,.180,.190,.200,.205],
[3315,84,.115,.123,.131,.139,.147,.155,.163],
[3326,76,.085,.092,.099,.107,.115,.123,.131,.139,.147,.155,.163,.171],
[3340,88,.112,.120,.128,.136,.144,.152,.160],
[3350,26,.170,.178,.186,.194,.202,.210,.220],[3350,84,.114,.122,.130,.138,.146,.154,.166],
[3366,86,.110,.118,.126,.134,.142,.150,.158,.239,.246],
[3389,82,.106,.114,.122,.130,.138,.146,.154,.162],
[3411,76,.109,.117,.125,.133,.141,.155,.162],[3411,56,.173,.181,.189,.197,.205,.213,.222,.232,.248,.258,.268,.275,.285],
[3434,84,.074,.082,.090,.098,.106,.114,.122,.130,.138,.146,.155],[3434,30,.171,.179,.187,.195,.203,.211,.219,.227,.235,.243,.251,.258],
[3447,74,.150,.165,.180,.190,.200,.220,.240,.255],
[3458,76,.065,.076,.084,.092,.100,.108,.116,.124,.132,.140],
[3479,82,.099,.107,.115,.123,.131,.139,.147,.155],
[3497,78,.081,.089,.095,.103,.111,.119,.127,.135,.143,.151,.159,.173],
[3519,84,.099,.107,.115,.123,.131,.139,.148],
[3540,90,.07,.078,.086,.094,.102,.110,.118,.126,.134,.142,.148],
[3565,82,.090,.098,.106,.114,.122,.130,.138],
[3590,86,.090,.098,.106,.114,.122,.127],
[3616,80,.058,.066,.074,.082,.090,.098,.106,.114,.125,.134,.142,.150,.158,.166,.174,.182,.190,.205,.212,.220,.228,.236,.239],
[3632,84,.049,.057,.065,.073,.081,.089,.097,.105,.113,.120],[3632,34,.141,.149,.157,.165,.173,.181,.190],
[3645,72,.038,.046,.054,.062],[3645,100,.060,.066,.072,.077],[3645,46,.208,.216,.224,.232,.240,.248,.256,.260],
[3645,86,.085,.093,.101,.109,.117,.125],
[3662,92,.067,.075,.083,.091,.099,.107,.115,.123,.131,.141,.150,.156],
[3678,88,.085,.093,.101,.109,.117,.125,.133],
[3695,90,.042,.050,.058,.066,.074,.082,.090,.098,.106,.114,.122,.130,.138,.146,.155],
[3710,86,.095,.103,.111,.119,.127,.135,.145],
[3722,92,.094,.102,.110,.118,.126,.134,.150,.158],
[3734,86,.078,.086,.094,.102,.110,.118,.126,.134,.142,.152],
[3746,78,.100,.108,.116,.124,.132,.140],
[3758,92,.088,.096,.104,.112,.120,.128,.136,.144,.152,.162,.166,.269,.276,.334,.344],
[3772,80,.105,.113,.121,.129,.137,.145],
[3785,84,.106,.114,.122,.130,.138,.146,.152],
[3808,104,.079,.087,.095,.103,.106],[3808,88,.106,.114,.122,.130,.138,.146,.154,.162,.170],
[3820,82,.110,.118,.126,.134,.142,.150,.158],
[3833,86,.106,.114,.122,.130,.138,.146,.155],
[3846,72,.120,.135,.150,.160,.170,.178],
[3858,88,.074,.082,.090,.098,.106,.114,.122,.130,.138,.155],[3858,44,.177,.202,.218],[3858,30,.253,.260,.266,.272],
[3871,90,.085,.093,.101,.109,.117,.125,.133,.141,.150],
[3884,92,.074,.082,.090,.098,.106,.114,.122,.130,.138,.146,.154,.162,.170,.180],
[3896,84,.100,.108,.116,.124,.132,.150,.160,.172],
[3911,92,.064,.072,.080,.088,.096,.104,.112,.120,.128,.136],[3911,36,0,.007],[3911,78,.140,.150,.160,.165],
[3928,98,.063,.071,.079,.087,.095,.103,.111,.119,.127,.135,.145],
[3946,96,.067,.075,.083,.091,.099,.107,.115,.125],[3946,8,.164,.172,.180,.188,.196,.204,.208,.216,.224,.232,.237],[3946,80,.135,.145,.155,.165],
[3962,94,.085,.093,.101,.109,.117,.125,.133],
[3977,102,.049,.057,.065,.073,.081,.089,.097,.105,.113,.121,.127],[3977,78,.135,.145,.155,.162],
[3990,92,.085,.093,.101,.109,.117,.125],
[4000,90,.088,.096,.104,.112,.120,.125],
[4018,86,.057,.065,.073,.081,.089,.097,.105,.113,.121,.129,.137,.145,.153,.161],
[4030,90,.075,.083,.091,.099,.107,.115,.125],
[4042,56,.022,.031,.037,.049],[4042,82,.060,.068,.076,.084,.092,.100,.108,.116,.124,.132],
[4052,88,.055,.063,.071,.079,.087,.095,.103,.111,.119],
[4063,72,.037,.045,.053,.061],[4063,90,.068,.076,.084,.092,.100,.108],[4063,92,.120,.128,.136,.144,.152,.160,.168,.176,.187],
[4078,88,.065,.073,.081,.089,.097,.105,.113,.121],
[4094,68,.033,.041,.054,.061,.069,.077,.085,.093,.101,.109,.117,.125],[4094,22,0,.026],[4094,60,.130,.138,.146],
[4114,84,.141,.149,.157,.165,.173,.181,.189,.197,.205,.213,.221,.229,.237,.245,.253,.262],
[4130,78,.145,.153,.161,.169,.177,.185,.193,.201,.209,.217],[4130,58,.226,.234,.242,.250,.258,.262],[4130,66,.274,.282,.290,.297],
[4148,84,.141,.149,.157,.165,.173,.181,.189,.197,.205,.213,.222],
[4166,56,.049,.06,.083,.090],[4166,42,.099,.106,.113,.118],[4166,22,.156,.162],[4166,80,.162,.170,.178,.186,.194,.202,.215],
[4166,5,.218,.226,.234,.242,.250,.258,.266,.274,.282,.296,.300],[4166,74,.300,.307,.314],
[4176,4,.242,.248,.254,.262,.270,.280,.285,.292,.300]];

/* compaction trends of panel b */
const bMechPor=[.198,.534];const bMechDepth=[3197,1747];
const bChemPor=[.2886,.152];const bChemDepth=[3358,4156];

/* ---------- helpers ---------- */
function hexRgb(h){return [1,3,5].map(i=>parseInt(h.substr(i,2),16));}
function grColor(g){
  for(let i=1;i<grStops.length;i++){
    if(g<=grStops[i][0]){
      const a=grStops[i-1],b=grStops[i],t=(g-a[0])/(b[0]-a[0]);
      const ca=hexRgb(a[1]),cb=hexRgb(b[1]);
      return 'rgb('+ca.map((c,k)=>Math.round(c+(cb[k]-c)*t)).join(',')+')';
    }
  }
  return grStops[grStops.length-1][1];
}
function mk(left,top,w,h){
  const c=document.createElement('canvas');
  c.width=w;c.height=h;c.style.cssText='left:'+left+'px;top:'+top+'px;width:'+w+'px;height:'+h+'px;z-index:1';
  document.body.appendChild(c);return c;
}
const whiteArea={id:'whiteArea',beforeDraw(ch){const a=ch.chartArea,x=ch.ctx;x.save();x.fillStyle='#fff';x.fillRect(a.left,a.top,a.width,a.height);x.restore();}};
const tickRed={color:'#ff2a2a',font:{family:'"Liberation Sans"',weight:'bold',size:12}};
const borderDark={color:'#555',width:2};
function setTicks(list){return s=>{s.ticks=list.map(v=>({value:v}));};}
function noPad(s){s.paddingTop=0;s.paddingBottom=0;s.paddingLeft=0;s.paddingRight=0;}
function logChart(cv,cfg){
  const pts=[],fills=[];
  cfg.rows.forEach(z=>z.forEach(r=>{
    for(let i=2;i<r.length;i++){pts.push({x:r[i],y:r[0]});fills.push(grColor(r[1]));}
  }));
  const trend=(xs,ys)=>({type:'line',data:xs.map((x,i)=>({x:x,y:ys[i]})),borderColor:'#000',borderWidth:3.2,pointRadius:0,fill:false,tension:0,order:0});
  const ds=[{type:'scatter',data:pts,pointBackgroundColor:fills,pointBorderColor:'#1c1c1c',pointBorderWidth:1.1,pointRadius:cfg.radius,pointHoverRadius:cfg.radius,order:2}];
  (cfg.lines||[]).forEach(l=>ds.push(trend(l[0],l[1])));
  const gridCol=c=>c.tick&&c.tick.value===0?'#222':'#cfcfcf';
  return new Chart(cv,{type:'scatter',data:{datasets:ds},plugins:[whiteArea],options:{
    responsive:false,animation:false,devicePixelRatio:1,
    layout:{padding:0},
    plugins:{legend:{display:false},tooltip:{enabled:false}},
    scales:{
      x:{type:'linear',position:'bottom',min:cfg.xMin,max:cfg.xMax,afterBuildTicks:setTicks(cfg.xTicks),
        afterFit:s=>{s.height=cfg.pad.bottom;noPad(s);},
        grid:{color:gridCol,lineWidth:c=>c.tick&&c.tick.value===0?1.5:2,tickLength:7,tickColor:'#444',drawTicks:true},border:borderDark,
        ticks:Object.assign({},tickRed,{autoSkip:false,minRotation:90,maxRotation:90,padding:2,callback:v=>String(v)}),
        title:{display:true,text:cfg.xTitle,color:'#333',font:{family:'"DejaVu Sans"',weight:'bold',size:cfg.xTitleSize},padding:{top:0,bottom:cfg.xTitlePad}}},
      y:{type:'linear',position:'left',reverse:true,min:cfg.yMin,max:cfg.yMax,afterBuildTicks:setTicks(depthTicks),
        afterFit:s=>{s.width=cfg.pad.left;noPad(s);},
        grid:{color:'#cfcfcf',lineWidth:2,tickLength:7,tickColor:'#444'},border:borderDark,
        ticks:Object.assign({},tickRed,{autoSkip:false,padding:3,font:{family:'"DejaVu Sans"',weight:'bold',size:11.5},callback:v=>String(v)}),
        title:{display:true,text:cfg.yTitle,color:'#222',font:{family:'"DejaVu Sans"',weight:'bold',size:cfg.yTitleSize},padding:{top:cfg.yTitlePad,bottom:0}}},
      xTop:{type:'linear',position:'top',min:cfg.xMin,max:cfg.xMax,afterBuildTicks:setTicks(cfg.xTicks),
        afterFit:s=>{s.height=cfg.pad.top;noPad(s);},
        grid:{drawOnChartArea:false,tickLength:7,tickColor:'#444'},border:borderDark,ticks:{display:false}},
      yRight:{type:'linear',position:'right',reverse:true,min:cfg.yMin,max:cfg.yMax,afterBuildTicks:setTicks(depthTicks),
        afterFit:s=>{s.width=cfg.pad.right;noPad(s);},
        grid:{drawOnChartArea:false,tickLength:8,tickColor:'#444'},border:borderDark,ticks:{display:false}}
    }}});
}
function grBar(cv){
  return new Chart(cv,{type:'bar',data:{labels:['GR (API)'],datasets:[{data:[[1.5,117.7]],barThickness:56,borderWidth:1,borderSkipped:false,borderColor:'#222',
    backgroundColor:c=>{const a=c.chart.chartArea;if(!a)return '#888';
      const g=c.chart.ctx.createLinearGradient(0,a.bottom,0,a.top);
      grStops.forEach(s=>{const t=Math.min(1,Math.max(0,(s[0]-1.5)/(117.7-1.5)));g.addColorStop(t,s[1]);});return g;}}]},
    options:{responsive:false,animation:false,devicePixelRatio:1,layout:{padding:{top:4,bottom:4}},
      plugins:{legend:{display:false},tooltip:{enabled:false}},
      scales:{x:{display:false},
        y:{position:'right',min:1.5,max:117.7,afterBuildTicks:setTicks(grTicks),afterFit:s=>{s.width=48;noPad(s);},
          grid:{drawOnChartArea:false,tickLength:8,tickColor:'#333'},border:{color:'#333',width:1},
          ticks:{color:'#111',padding:3,autoSkip:false,font:{family:'"Liberation Sans"',weight:'bold',size:13}}}}}});
}
window.addEventListener('DOMContentLoaded',()=>{
  const aLines=aTopDepth.map((d,i)=>[[aTopFrom[i],aTopTo[i]],[d,d]]);
  aLines.push([aMechVs,aMechDepth],[aChemVs,aChemDepth]);
  logChart(mk(10,38,760,626),{rows:[aBodyUpper,aBodyLower,aUpperSand,aSandA,aSandB,aSandC,aSandE,aSandG],radius:2.7,lines:aLines,
    xMin:1000,xMax:5000,yMin:1600,yMax:4248,xTicks:vsTicks,xTitle:'      Vs (m/s)',xTitleSize:13.5,xTitlePad:2,yTitle:'   Depth - MD  (m)',yTitleSize:11.5,yTitlePad:8,
    pad:{left:77,right:16,top:7,bottom:63}});
  logChart(mk(6,724,760,555),{rows:[bBodyUpper,bBodyMid,bBodyLower,bUpperSand,bMidSand,bLowerSand],radius:2.5,lines:[[bMechPor,bMechDepth],[bChemPor,bChemDepth]],
    xMin:-0.0129,xMax:0.6547,yMin:1601,yMax:4221,xTicks:porTicks,xTitle:'      Por  (fract)',xTitleSize:13.8,xTitlePad:0,yTitle:'  Depth - MD  (m)',yTitleSize:10.5,yTitlePad:3,
    pad:{left:75,right:14,top:11,bottom:58}});
  grBar(mk(782,88,116,349));
  grBar(mk(781,772,116,309));
});
</script>

<div class="lab" style="left:14px;top:2px">a</div>
<div class="lab" style="left:14px;top:687px">b</div>
<div class="panel" style="left:10px;top:38px;width:958px;height:626px;border-left:2px solid #6cc0a0;border-bottom:2px solid #2f8fa0;box-sizing:border-box"></div>
<div class="panel" style="left:6px;top:724px;width:962px;height:555px;border-top:1px solid #c8d0a0;box-sizing:border-box"></div>

<!-- panel a side controls -->
<div class="abs" style="left:783px;top:38px;width:82px;height:43px;background:#c8cc9c"></div>
<div class="btn" style="left:783px;top:38px"><svg width="20" height="10"><path d="M0 5 L6 1 V3.5 H20 V6.5 H6 V9 Z" fill="#6fbf7f"/></svg></div>
<div class="btn" style="left:810px;top:38px"><svg width="20" height="10"><path d="M20 5 L14 1 V3.5 H0 V6.5 H14 V9 Z" fill="#6fbf7f"/></svg></div>
<div class="btn" style="left:837px;top:38px"><svg width="10" height="16"><path d="M5 0 L9 5 H6.5 V11 H9 L5 16 L1 11 H3.5 V5 H1 Z" fill="#6fbf7f"/></svg></div>
<div class="btn on" style="left:783px;top:59px;height:21px"><span class="cm"></span><span class="lt">a</span></div>
<div class="btn" style="left:810px;top:59px;height:21px"><span class="cm"></span><span class="lt" style="color:#111">s</span></div>
<div class="btn" style="left:837px;top:59px;height:21px"><span class="cm"></span><span class="lt">m</span></div>
<div class="s" style="left:954px;top:261px;font:bold 11.5px 'Liberation Sans';transform:translate(-50%,-50%) rotate(-90deg);color:#222;z-index:2">GR (API)</div>
<div class="box" style="left:783px;top:438px;width:184px;height:175px"></div>
<div class="s" style="left:798px;top:447px;font:bold 13px 'Liberation Sans';color:#111">Symbols:</div>
<div class="dot" style="left:793px;top:463px"></div>
<div class="s" style="left:812px;top:462px">N-001</div>
<div class="box" style="left:783px;top:613px;width:184px;height:47px"></div>
<div class="s" style="left:784px;top:615px;color:#666;font-size:12.5px">Global Cut-offs:</div>
<div class="s" style="left:791px;top:630px;color:#666;font-size:12.5px">No Cut-offs</div>

<!-- panel b side controls -->
<div class="abs" style="left:781px;top:726px;width:83px;height:43px;background:#c8cc9c"></div>
<div class="btn" style="left:781px;top:726px"><svg width="20" height="10"><path d="M0 5 L6 1 V3.5 H20 V6.5 H6 V9 Z" fill="#6fbf7f"/></svg></div>
<div class="btn" style="left:809px;top:726px"><svg width="20" height="10"><path d="M20 5 L14 1 V3.5 H0 V6.5 H14 V9 Z" fill="#6fbf7f"/></svg></div>
<div class="btn" style="left:837px;top:726px"><svg width="10" height="16"><path d="M5 0 L9 5 H6.5 V11 H9 L5 16 L1 11 H3.5 V5 H1 Z" fill="#6fbf7f"/></svg></div>
<div class="btn on" style="left:781px;top:747px;height:21px"><span class="cm"></span><span class="lt">a</span></div>
<div class="btn" style="left:809px;top:747px;height:21px"><span class="cm"></span><span class="lt" style="color:#111">s</span></div>
<div class="btn" style="left:837px;top:747px;height:21px"><span class="cm"></span><span class="lt">m</span></div>
<div class="s" style="left:953px;top:925px;font:bold 11.5px 'Liberation Sans';transform:translate(-50%,-50%) rotate(-90deg);color:#222;z-index:2">GR (API)</div>
<div class="box" style="left:781px;top:1081px;width:185px;height:155px"></div>
<div class="s" style="left:796px;top:1088px;font:bold 13px 'Liberation Sans';color:#111">Symbols:</div>
<div class="dot" style="left:791px;top:1102px"></div>
<div class="s" style="left:810px;top:1101px">N-001</div>
<div class="box" style="left:781px;top:1236px;width:185px;height:41px"></div>
<div class="s" style="left:782px;top:1238px;color:#666;font-size:12.5px">Global Cut-offs:</div>
<div class="s" style="left:789px;top:1251px;color:#666;font-size:12.5px">No Cut-offs</div>

<!-- annotations drawn on top of the charts -->
<div style="position:absolute;left:0;top:0;z-index:3">
<div class="t" style="left:368px;top:140px;font-size:24.3px">Benin Base Sands</div>
<div class="t" style="left:356px;top:193px;font-size:24px;letter-spacing:.6px">Sand A Top</div>
<div class="t" style="left:380px;top:275px;font-size:24px;letter-spacing:.5px">Sand B Top</div>
<div class="t" style="left:406px;top:324px;font-size:24px;letter-spacing:.5px">Sand C Top</div>
<div class="t" style="left:434px;top:386px;font-size:24px;letter-spacing:.5px">Sand D Top</div>
<div class="t" style="left:521px;top:406px;font-size:24px;letter-spacing:.5px">Sand E Top</div>
<div class="t" style="left:546px;top:446px;font-size:24px;letter-spacing:.5px">Sand F Top</div>
<div class="t" style="left:540px;top:500px;font-size:24px;letter-spacing:.5px">Sand G Top</div>
<div class="t" style="left:607px;top:533px;font-size:24px;letter-spacing:.5px">Sand H Top</div>
<div class="t" style="left:135px;top:112px;font-size:20px;--a:60deg">Mechanical Compaction</div>
<div class="t" style="left:251px;top:390px;font-size:20.5px;--a:66.5deg">Chemical Compaction Zone</div>
<div class="t blue" style="left:132px;top:327px;font-size:24.5px;--a:13.5deg">Transition Zone</div>
<div class="t" style="left:118px;top:126px;font-size:14px;--a:55deg">-</div>
<div class="t" style="left:464px;top:942px;font-size:20.5px;--a:-49deg">Mechanical Compaction</div>
<div class="t" style="left:346px;top:1169px;font-size:20px;--a:-47deg">Chemical Compaction</div>
<div class="t blue" style="left:265px;top:1021px;font-size:24px;--a:12.5deg">Transition Zone</div>
<div class="t" style="left:480px;top:946px;font-size:14px;--a:-40deg">-</div>
<div class="t" style="left:360px;top:1174px;font-size:14px;--a:30deg">-</div>
</div>
</body></html>
